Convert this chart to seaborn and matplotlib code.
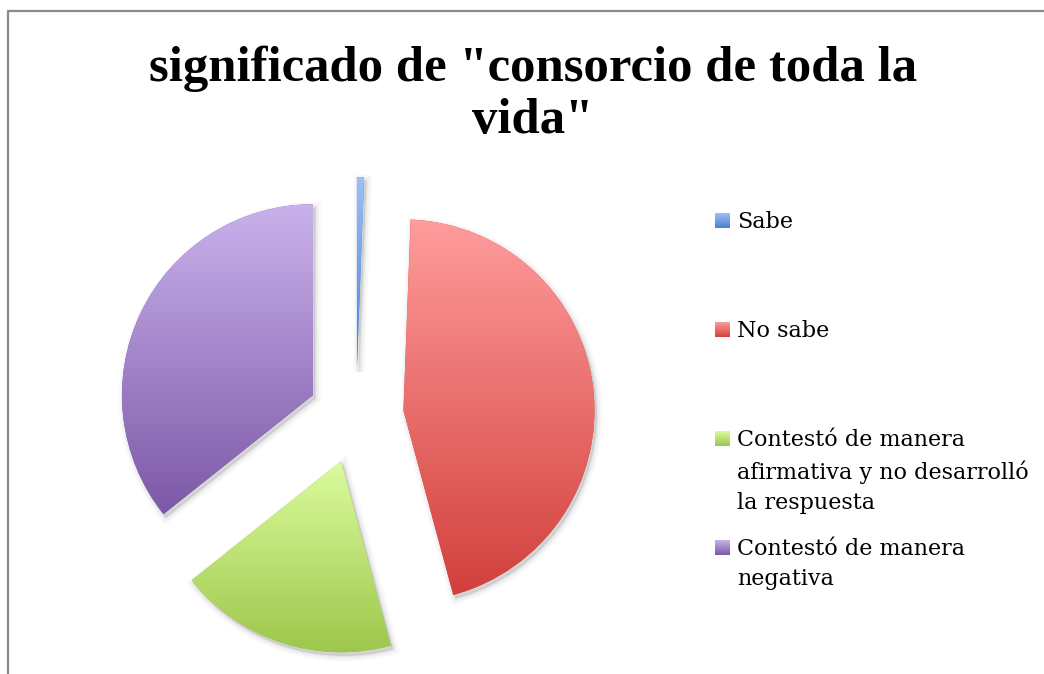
import matplotlib
matplotlib.use("Agg")
import matplotlib.pyplot as plt
import seaborn as sns
import numpy as np
from matplotlib.colors import LinearSegmentedColormap
from matplotlib.patches import Wedge

# data (percent of answers)
categories = [
    "Sabe",
    "No sabe",
    "Contestó de manera\nafirmativa y no desarrolló\nla respuesta",
    "Contestó de manera\nnegativa",
]
values = [0.6, 45.2, 18.5, 35.7]
title = 'significado de "consorcio de toda la\nvida"'

top_colors = ["#9CC0F7", "#FF9C9C", "#DCFC9E", "#C9B2EC"]
bottom_colors = ["#4A80CE", "#D2403C", "#9CC64B", "#7C58A6"]

sns.set_theme(style="white")
plt.rcParams["font.family"] = ["DejaVu Serif", "Liberation Serif"]

fig = plt.figure(figsize=(10.44, 6.74), dpi=100)
fig.patch.set_facecolor("white")

# overlay in pixel coordinates for frame, title and legend
over = fig.add_axes([0, 0, 1, 1], zorder=0)
over.set_xlim(0, 1044)
over.set_ylim(674, 0)
over.axis("off")
over.plot([8, 8, 1044], [674, 11, 11], color="#8a8a8a", lw=1.6, solid_capstyle="butt")

over.text(533, 95, title, ha="center", va="center", fontsize=36.5,
          fontweight="bold", linespacing=1.17, color="black",
          family=["Liberation Serif", "DejaVu Serif"])

ax = fig.add_axes([0.1015, 0.0119, 0.479, 0.742], zorder=1)
wedges, _ = ax.pie(
    values, startangle=90, counterclock=False,
    explode=[0.25] * len(values), radius=1,
    wedgeprops=dict(linewidth=0),
)
ax.set_aspect("equal")
ax.axis("off")

grad = np.linspace(0, 1, 256).reshape(-1, 1)
for w, c_top, c_bot in zip(wedges, top_colors, bottom_colors):
    # soft drop shadow
    for lw, a in [(8, 0.025), (5, 0.035), (2, 0.05)]:
        sh = Wedge((w.center[0] + 0.012, w.center[1] - 0.018), w.r, w.theta1, w.theta2,
                   facecolor=(0, 0, 0, a), edgecolor=(0, 0, 0, a), lw=lw, zorder=0.5)
        ax.add_patch(sh)
    w.set_facecolor(c_bot)
    w.set_zorder(1)
    verts = w.get_path().vertices
    x0, x1 = verts[:, 0].min(), verts[:, 0].max()
    y0, y1 = verts[:, 1].min(), verts[:, 1].max()
    cmap = LinearSegmentedColormap.from_list("g", [c_bot, c_top])
    im = ax.imshow(grad, cmap=cmap, origin="lower", aspect="auto",
                   extent=(x0, x1, y0, y1), zorder=2, interpolation="bilinear")
    im.set_clip_path(w)
ax.set_xlim(-1.309, 1.309)
ax.set_ylim(-1.309, 1.309)

# legend, Excel style: evenly spaced entries, marker at first line
leg_y0, leg_step = 221, 109
for i, (lab, c_top, c_bot) in enumerate(zip(categories, top_colors, bottom_colors)):
    y = leg_y0 + i * leg_step
    cmap = LinearSegmentedColormap.from_list("m", [c_top, c_bot])
    over.imshow(grad, cmap=cmap, aspect="auto", extent=(715, 730, y + 7.5, y - 7.5),
                interpolation="bilinear")
    over.text(737, y - 10, lab, ha="left", va="top", fontsize=16,
              linespacing=1.5, color="black")
over.set_xlim(0, 1044)
over.set_ylim(674, 0)

fig.savefig("out.png", dpi=100)
